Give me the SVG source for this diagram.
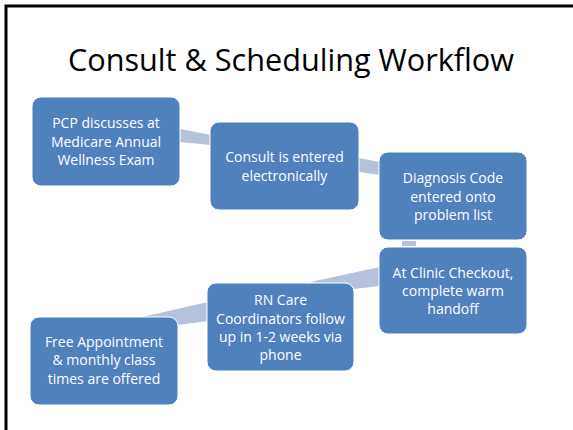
<svg xmlns="http://www.w3.org/2000/svg" width="573" height="430" viewBox="0 0 573 430">
<style>
.box{fill:#4f81bd;stroke:#ffffff;stroke-width:1}
.con{fill:#b4c2dd}
.t{font-family:"Open Sans","Liberation Sans",sans-serif;font-size:14px;fill:#ffffff;text-anchor:middle}
.title{font-family:"Open Sans","Liberation Sans",sans-serif;font-size:31px;fill:#000000;text-anchor:middle}
</style>
<rect x="0" y="0" width="573" height="430" fill="#ffffff"/>
<path d="M6 430 V6 H573" fill="none" stroke="#000000" stroke-width="3"/>
<text class="title" x="291" y="71" textLength="446" lengthAdjust="spacingAndGlyphs">Consult &amp; Scheduling Workflow</text>
<g id="connectors">
<polygon class="con" points="180,129 211,135 211,145 180,142"/>
<polygon class="con" points="359,158 380,162 380,175 359,172"/>
<polygon class="con" points="402,241 416,241 416,246 402,246"/>
<polygon class="con" points="380,267 380,286 354,289 310,282"/>
<polygon class="con" points="208,302 208,321 178,325 142,317"/>
</g>
<g id="n1">
<rect class="box" x="32" y="97" width="148" height="89" rx="9"/>
<text class="t" x="106" y="128">PCP discusses at</text>
<text class="t" x="106" y="146.5">Medicare Annual</text>
<text class="t" x="106" y="165">Wellness Exam</text>
</g>
<g id="n2">
<rect class="box" x="210" y="122" width="149" height="88" rx="9"/>
<text class="t" x="284.5" y="162">Consult is entered</text>
<text class="t" x="284.5" y="180.5">electronically</text>
</g>
<g id="n3">
<rect class="box" x="379" y="152" width="148" height="88" rx="9"/>
<text class="t" x="453" y="183">Diagnosis Code</text>
<text class="t" x="453" y="201.5">entered onto</text>
<text class="t" x="453" y="220">problem list</text>
</g>
<g id="n4">
<rect class="box" x="379" y="247" width="148" height="87" rx="9"/>
<text class="t" x="453" y="277.5">At Clinic Checkout,</text>
<text class="t" x="453" y="296">complete warm</text>
<text class="t" x="453" y="314">handoff</text>
</g>
<g id="n5">
<rect class="box" x="207" y="283" width="147" height="88" rx="9"/>
<text class="t" x="280.5" y="305">RN Care</text>
<text class="t" x="280.5" y="323.5">Coordinators follow</text>
<text class="t" x="280.5" y="342">up in 1-2 weeks via</text>
<text class="t" x="280.5" y="360">phone</text>
</g>
<g id="n6">
<rect class="box" x="30" y="317" width="148" height="88" rx="9"/>
<text class="t" x="104" y="346.5">Free Appointment</text>
<text class="t" x="104" y="365">&amp; monthly class</text>
<text class="t" x="104" y="383.5">times are offered</text>
</g>
</svg>
